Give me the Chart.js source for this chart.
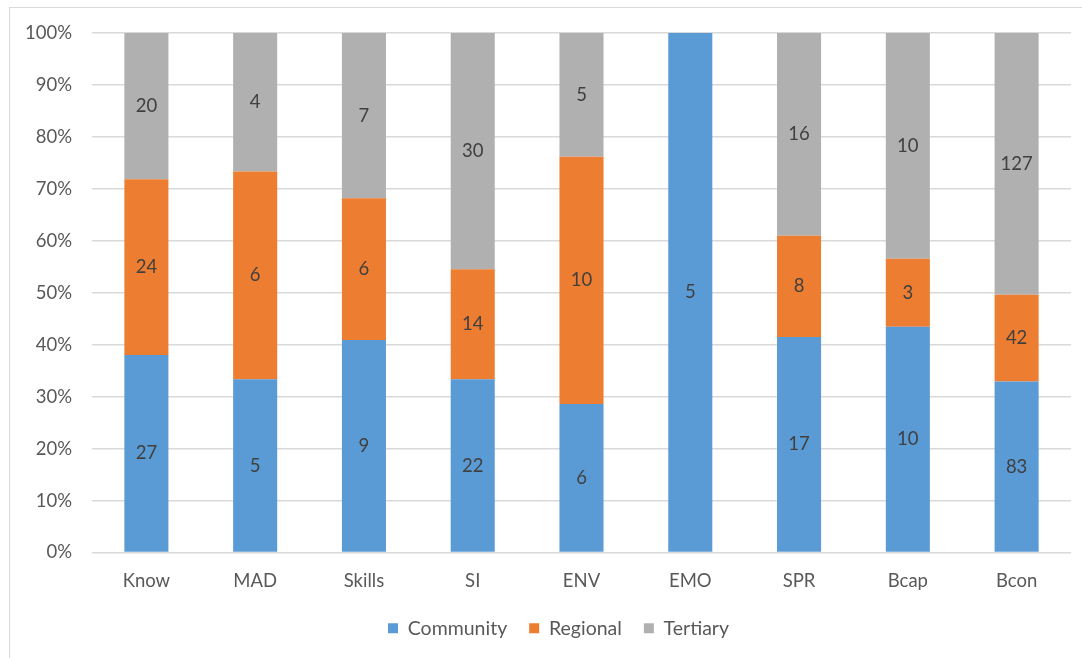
<!DOCTYPE html>
<html>
<head>
<meta charset="utf-8">
<script src="https://cdn.jsdelivr.net/npm/chart.js@4"></script>
<style>
  html, body { margin: 0; padding: 0; background: #fff; }
  #frame { position: absolute; left: 9px; top: 7px; width: 1090px; height: 670px; border: 1px solid #d9d9d9; box-sizing: border-box; }
  #wrap { position: absolute; left: 0; top: 0; width: 1082px; height: 658px; }
</style>
</head>
<body>
<div id="frame"></div>
<div id="wrap"><canvas id="chart"></canvas></div>
<script>
const categories = ['Know', 'MAD', 'Skills', 'SI', 'ENV', 'EMO', 'SPR', 'Bcap', 'Bcon'];
const community = [27, 5, 9, 22, 6, 5, 17, 10, 83];
const regional  = [24, 6, 6, 14, 10, 0, 8, 3, 42];
const tertiary  = [20, 4, 7, 30, 5, 0, 16, 10, 127];
const yTicks = [0, 10, 20, 30, 40, 50, 60, 70, 80, 90, 100];

const totals = categories.map((_, i) => community[i] + regional[i] + tertiary[i]);
const pct = arr => arr.map((v, i) => v / totals[i] * 100);

const FONT = 'Lato, "Open Sans", sans-serif';
const TEXT = '#595959';

// draws the raw counts in the middle of each segment
const countLabels = {
  id: 'countLabels',
  afterDatasetsDraw(chart) {
    const ctx = chart.ctx;
    ctx.save();
    ctx.font = '18.5px ' + FONT;
    ctx.fillStyle = '#404040';
    ctx.textAlign = 'center';
    ctx.textBaseline = 'middle';
    chart.data.datasets.forEach((ds, di) => {
      const meta = chart.getDatasetMeta(di);
      meta.data.forEach((bar, i) => {
        const n = ds.counts[i];
        if (!n) return;
        ctx.fillText(String(n), bar.x, (bar.y + bar.base) / 2);
      });
    });
    ctx.restore();
  }
};

// legend in the original sits a little right of the canvas centre
const legendShift = {
  id: 'legendShift',
  afterLayout(chart) { chart.legend.left += 46; }
};

new Chart(document.getElementById('chart'), {
  type: 'bar',
  data: {
    labels: categories,
    datasets: [
      { label: 'Community', data: pct(community), counts: community, backgroundColor: '#5b9bd5' },
      { label: 'Regional',  data: pct(regional),  counts: regional,  backgroundColor: '#ed7d31' },
      { label: 'Tertiary',  data: pct(tertiary),  counts: tertiary,  backgroundColor: '#b0b0b0' }
    ]
  },
  options: {
    responsive: true, maintainAspectRatio: false, animation: false,
    devicePixelRatio: 1,
    layout: { padding: { top: 33, right: 11, bottom: 10, left: 0 } },
    datasets: { bar: { barPercentage: 0.405, categoryPercentage: 1 } },
    plugins: {
      tooltip: { enabled: false },
      legend: {
        position: 'bottom',
        labels: {
          color: TEXT, font: { family: FONT, size: 19.5 },
          boxWidth: 10, boxHeight: 10, padding: 22
        }
      }
    },
    scales: {
      x: {
        stacked: true,
        grid: { display: false },
        border: { display: false },
        ticks: { color: TEXT, font: { family: FONT, size: 18.5 }, padding: 9 },
        afterFit: s => { s.height = 44; }
      },
      y: {
        stacked: true, min: 0, max: 100,
        afterBuildTicks: s => { s.ticks = yTicks.map(v => ({ value: v })); },
        grid: { color: '#d9d9d9', lineWidth: 1.5, drawTicks: false },
        border: { display: false },
        ticks: { color: TEXT, font: { family: FONT, size: 18.5 }, padding: 20, callback: v => v + '%' },
        afterFit: s => { s.width = 92; }
      }
    }
  },
  plugins: [countLabels, legendShift]
});
</script>
</body>
</html>
